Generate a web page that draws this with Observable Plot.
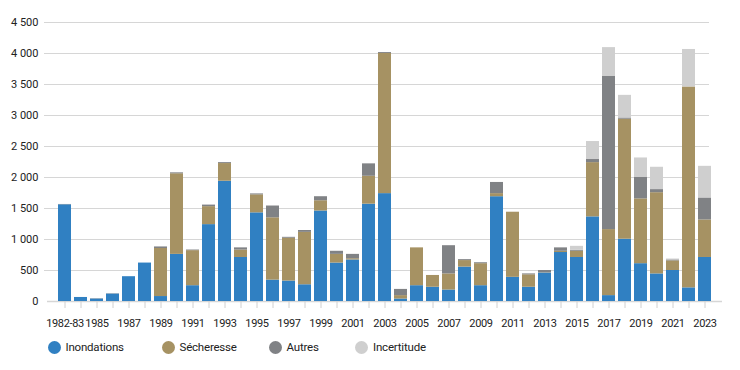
<!DOCTYPE html>
<html>
<head>
<meta charset="utf-8">
<script src="https://cdn.jsdelivr.net/npm/d3@7"></script>
<script src="https://cdn.jsdelivr.net/npm/@observablehq/plot@0.6"></script>
<style>
  html, body { margin: 0; padding: 0; background: #fff; }
  #chart { position: relative; width: 740px; font-family: Roboto, sans-serif; }
  .legend { position: relative; height: 35px; font-family: Roboto, sans-serif; font-size: 11.5px; color: #222; }
  .item { position: absolute; top: 5px; display: flex; align-items: center; letter-spacing: -0.2px; }
  .dot { width: 13px; height: 13px; border-radius: 50%; margin-right: 5px; }
</style>
</head>
<body>
<div id="chart"></div>
<script>
const categories = ["1982-83","1984","1985","1986","1987","1988","1989","1990","1991","1992","1993","1994","1995","1996","1997","1998","1999","2000","2001","2002","2003","2004","2005","2006","2007","2008","2009","2010","2011","2012","2013","2014","2015","2016","2017","2018","2019","2020","2021","2022","2023"];
const inondations = [1560,65,40,120,400,620,80,760,255,1240,1940,710,1430,345,330,270,1460,620,670,1570,1740,40,255,230,185,555,255,1690,390,230,460,790,710,1365,95,1005,610,445,500,220,710];
const secheresse = [0,0,0,0,0,0,775,1300,565,290,285,120,290,1005,690,845,165,140,20,450,2260,55,610,190,260,105,355,50,1050,200,5,20,100,875,1065,1935,1045,1310,155,3240,605];
const autres = [5,0,5,5,0,0,25,15,10,25,15,35,15,190,15,30,65,50,70,200,15,100,0,0,455,15,15,180,0,15,35,55,15,50,2475,20,345,50,15,0,355];
const incertitude = [0,0,0,0,0,0,0,0,0,0,0,0,0,0,0,0,0,0,0,0,0,0,0,0,0,0,0,0,0,0,0,0,65,290,460,365,315,360,15,605,510];
const seriesNames = ["Inondations","Sécheresse","Autres","Incertitude"];
const seriesColors = ["#3080c2","#a69263","#808285","#cfcfcf"];
const yTicks = [0,500,1000,1500,2000,2500,3000,3500,4000,4500];

const seriesValues = [inondations, secheresse, autres, incertitude];
const data = [];
categories.forEach((c, i) => {
  seriesNames.forEach((s, j) => data.push({cat: c, series: s, value: seriesValues[j][i]}));
});

const fr = d3.formatLocale({decimal: ",", thousands: " ", grouping: [3], currency: ["", ""]});
const fmt = fr.format(",");

const plot = Plot.plot({
  width: 740,
  height: 335,
  marginLeft: 48,
  marginRight: 19,
  marginTop: 22,
  marginBottom: 34,
  style: {fontFamily: "Roboto, sans-serif", fontSize: "11px", color: "#222", background: "#fff"},
  x: {domain: categories, padding: 0.185, label: null},
  y: {domain: [0, 4500], label: null},
  color: {domain: seriesNames, range: seriesColors},
  marks: [
    Plot.ruleY(yTicks.filter(d => d > 0), {stroke: "#d6d6d6", strokeWidth: 1, insetLeft: -4, insetRight: 12}),
    Plot.ruleY([0], {stroke: "#d6d6d6", strokeWidth: 1.5, insetLeft: -1, insetRight: -1}),
    Plot.barY(data, {x: "cat", y: "value", fill: "series", order: seriesNames}),
    Plot.axisY({ticks: yTicks, tickSize: 0, tickPadding: 10, tickFormat: fmt, fill: "#222", fontSize: 11}),
    Plot.axisX({tickSize: 7, tickPadding: 11, stroke: "#d0d0d0", fill: "#222", fontSize: 11,
      tickFormat: (d) => (categories.indexOf(d) % 2 === 0 ? d : "")})
  ]
});
plot.querySelectorAll('[aria-label="x-axis tick label"] text').forEach(t => t.setAttribute("letter-spacing", "-0.35"));
const chart = document.getElementById("chart");
chart.appendChild(plot);

const legend = document.createElement("div");
legend.className = "legend";
const lefts = [47.5, 161.5, 268.5, 355];
seriesNames.forEach((s, j) => {
  const it = document.createElement("div");
  it.className = "item";
  it.style.left = lefts[j] + "px";
  it.innerHTML = `<span class="dot" style="background:${seriesColors[j]}"></span><span>${s}</span>`;
  legend.appendChild(it);
});
chart.appendChild(legend);
</script>
</body>
</html>
